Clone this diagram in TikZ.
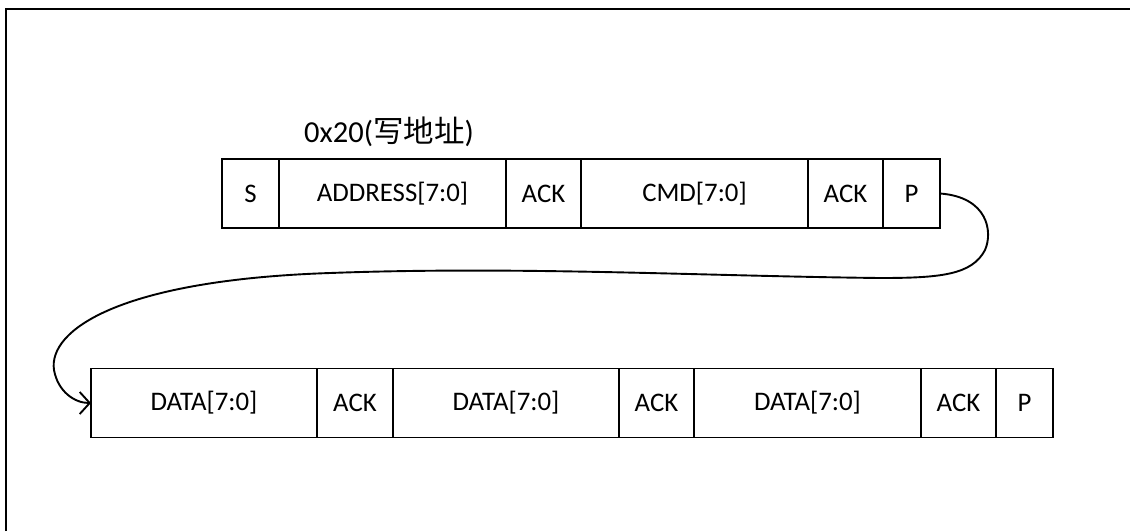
\documentclass[tikz,border=0pt]{standalone}
\usepackage{fontspec}
\setmainfont{Carlito}
\newfontfamily\cjk{Noto Sans CJK SC}
\usetikzlibrary{arrows.meta}
\tikzset{
  cell/.style={draw=black, line width=1.9pt, minimum height=69pt, inner sep=0pt, outer sep=0pt,
    font=\fontsize{26.8}{32}\selectfont},
  link/.style={line width=1.9pt, -{Straight Barb[length=10pt,width=22pt,line width=1.9pt]}},
}
\begin{document}
\begin{tikzpicture}[x=1pt,y=-1pt]
\useasboundingbox (0,0) rectangle (1130,531);
\draw[line width=2.2pt] (6,531) coordinate (fb) -- (6,9) coordinate (fc) -- (1130,9) coordinate (fr);
% top row
\node[cell, minimum width=57pt]  (s)    at (250.5,193.5) {S};
\node[cell, minimum width=227pt] (addr) at (392.5,193.5) {ADDRESS[7:0]};
\node[cell, minimum width=75pt]  (ack1) at (543.5,193.5) {ACK};
\node[cell, minimum width=227pt] (cmd)  at (694.5,193.5) {CMD[7:0]};
\node[cell, minimum width=75pt]  (ack2) at (845.5,193.5) {ACK};
\node[cell, minimum width=57pt]  (p1)   at (911.5,193.5) {P};
\node[anchor=west, inner sep=0pt, font=\fontsize{30.5}{36}\selectfont] (lbl) at (304,132) {0x20({\cjk 写地址})};
% bottom row
\node[cell, minimum width=226pt] (d1)   at (204,403) {DATA[7:0]};
\node[cell, minimum width=76pt]  (a1)   at (355,403) {ACK};
\node[cell, minimum width=226pt] (d2)   at (506,403) {DATA[7:0]};
\node[cell, minimum width=75pt]  (a2)   at (656.5,403) {ACK};
\node[cell, minimum width=227pt] (d3)   at (807.5,403) {DATA[7:0]};
\node[cell, minimum width=75pt]  (a3)   at (958.5,403) {ACK};
\node[cell, minimum width=57pt]  (p2)   at (1024.5,403) {P};
% connector
\draw[link] (p1.east) .. controls (988,197) and (993,232) .. (985,250)
  .. controls (972,275) and (940,278) .. (880,278)
  .. controls (700,276) and (520,266) .. (330,273)
  .. controls (120,280) and (48,330) .. (54,370)
  .. controls (58,392) and (75,403) .. (d1.west);
\end{tikzpicture}
\end{document}
